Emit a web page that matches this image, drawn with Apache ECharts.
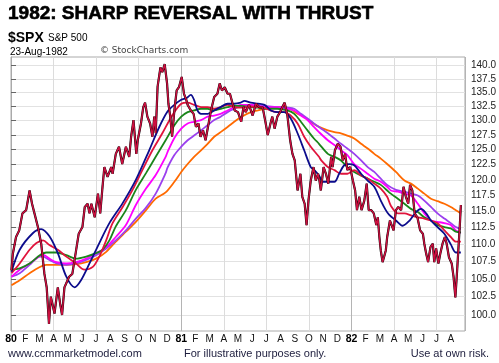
<!DOCTYPE html>
<html>
<head>
<meta charset="utf-8">
<script src="https://cdn.jsdelivr.net/npm/echarts@6.0.0/dist/echarts.min.js"></script>
<style>html,body{margin:0;padding:0;background:#fff}#c{width:499px;height:363px}</style>
</head>
<body>
<div id="c"></div>
<script>
// ---------- data ----------
const yTicks = [100.0,102.5,105.0,107.5,110.0,112.5,115.0,117.5,120.0,122.5,125.0,127.5,130.0,132.5,135.0,137.5,140.0];
const monthLetters = ['J','F','M','A','M','J','J','A','S','O','N','D'];

const price = [
['1980-01-02',106.2],['1980-01-05',108.6],['1980-01-12',111.1],['1980-01-19',112.1],['1980-01-26',114.7],
['1980-02-03',115.2],['1980-02-10',118.3],['1980-02-15',116.2],['1980-02-20',114.7],['1980-02-27',112.6],
['1980-03-05',110.1],['1980-03-12',105.7],['1980-03-17',103.8],['1980-03-22',98.8],['1980-03-26',102.5],
['1980-04-03',100.2],['1980-04-10',103.8],['1980-04-15',101.5],['1980-04-19',100.0],['1980-04-24',103.8],
['1980-05-04',105.3],['1980-05-11',105.7],['1980-05-18',108.6],['1980-05-25',111.6],
['1980-06-02',112.6],['1980-06-07',115.7],['1980-06-13',116.2],['1980-06-17',114.7],['1980-06-21',116.2],['1980-06-28',114.1],
['1980-07-05',117.8],['1980-07-10',114.7],['1980-07-15',118.9],['1980-07-19',122.1],['1980-07-26',120.5],
['1980-08-03',122.1],['1980-08-06',121.0],['1980-08-13',124.3],['1980-08-20',125.5],['1980-08-27',122.6],
['1980-09-04',125.5],['1980-09-11',123.8],['1980-09-15',127.2],['1980-09-20',130.1],['1980-09-26',124.3],['1980-09-29',126.6],
['1980-10-06',129.5],['1980-10-11',132.4],['1980-10-15',133.2],['1980-10-20',130.7],['1980-10-26',129.5],['1980-10-31',127.2],
['1980-11-04',130.7],['1980-11-07',127.8],['1980-11-11',136.1],['1980-11-17',139.7],['1980-11-21',138.8],['1980-11-26',140.3],
['1980-12-01',136.7],['1980-12-04',133.0],['1980-12-08',130.7],['1980-12-12',127.2],['1980-12-17',131.8],['1980-12-22',135.4],['1980-12-27',136.0],
['1981-01-02',137.9],['1981-01-07',134.8],['1981-01-12',133.7],['1981-01-15',132.8],['1981-01-22',131.8],['1981-01-28',131.2],
['1981-02-02',128.9],['1981-02-07',129.5],['1981-02-11',127.2],['1981-02-16',128.3],['1981-02-21',126.6],['1981-02-27',129.5],
['1981-03-04',131.8],['1981-03-11',134.2],['1981-03-18',134.8],['1981-03-23',136.7],['1981-03-28',135.4],
['1981-04-03',136.0],['1981-04-09',134.8],['1981-04-14',134.8],['1981-04-19',133.2],['1981-04-24',131.8],
['1981-05-01',131.5],['1981-05-08',129.8],['1981-05-13',132.4],['1981-05-18',131.5],['1981-05-25',132.8],
['1981-06-02',130.9],['1981-06-09',133.0],['1981-06-16',132.4],['1981-06-23',132.4],['1981-06-29',129.8],
['1981-07-04',127.5],['1981-07-10',129.5],['1981-07-14',130.7],['1981-07-19',128.6],['1981-07-25',130.7],['1981-07-31',131.5],
['1981-08-05',132.4],['1981-08-10',133.2],['1981-08-16',130.9],['1981-08-22',126.6],['1981-08-27',124.3],
['1981-09-01',123.2],['1981-09-07',118.3],['1981-09-13',121.0],['1981-09-17',117.3],['1981-09-22',116.2],['1981-09-26',112.9],['1981-09-30',116.7],
['1981-10-05',119.9],['1981-10-11',122.1],['1981-10-16',119.9],['1981-10-21',121.0],['1981-10-24',119.9],['1981-10-27',118.3],
['1981-11-02',122.1],['1981-11-07',121.0],['1981-11-12',119.4],['1981-11-18',123.8],['1981-11-21',122.1],['1981-11-26',124.9],
['1981-12-02',126.0],['1981-12-08',125.5],['1981-12-13',123.2],['1981-12-18',124.3],['1981-12-23',121.6],['1981-12-29',122.1],
['1982-01-04',119.9],['1982-01-09',118.3],['1982-01-13',115.2],['1982-01-18',117.3],['1982-01-23',115.2],['1982-01-29',116.7],
['1982-02-03',119.4],['1982-02-07',115.2],['1982-02-12',115.2],['1982-02-17',114.7],['1982-02-22',112.9],['1982-02-25',114.1],['1982-02-28',111.1],
['1982-03-03',109.1],['1982-03-07',107.4],['1982-03-10',108.1],['1982-03-14',109.1],['1982-03-17',111.1],['1982-03-23',113.6],['1982-03-31',112.1],
['1982-04-05',115.2],['1982-04-10',115.7],['1982-04-16',115.2],['1982-04-21',118.9],['1982-04-26',117.3],
['1982-05-01',116.2],['1982-05-05',119.2],['1982-05-10',118.3],['1982-05-15',114.7],['1982-05-21',114.1],['1982-05-27',112.1],
['1982-06-02',111.6],['1982-06-05',110.1],['1982-06-09',108.6],['1982-06-13',107.4],['1982-06-18',109.6],['1982-06-23',110.1],['1982-06-26',107.4],['1982-06-30',109.4],
['1982-07-05',107.2],['1982-07-09',108.6],['1982-07-14',110.1],['1982-07-19',111.1],['1982-07-23',110.1],['1982-07-28',108.1],
['1982-08-03',107.2],['1982-08-07',105.3],['1982-08-11',102.4],['1982-08-14',105.3],['1982-08-17',108.6],['1982-08-21',113.2],['1982-08-23',116.0]
];

const maNavy = [
['1980-01-02',106.0],['1980-01-20',109.2],['1980-02-17',111.7],['1980-03-05',112.3],['1980-03-23',111.2],['1980-04-10',108.7],
['1980-04-28',105.3],['1980-05-16',103.8],['1980-05-30',104.8],['1980-06-17',107.2],['1980-07-08',110.2],['1980-07-30',113.2],
['1980-08-28',116.3],['1980-09-25',120.0],['1980-10-24',124.9],['1980-11-14',128.8],['1980-12-02',131.6],['1980-12-17',132.8],
['1981-01-01',133.7],['1981-01-12',134.0],['1981-01-22',134.6],['1981-01-29',133.7],
['1981-02-05',131.8],['1981-02-12',131.2],['1981-02-25',131.2],['1981-03-11',131.8],['1981-03-25',132.4],['1981-04-09',133.0],
['1981-04-23',133.0],['1981-05-07',133.2],['1981-05-15',133.5],['1981-05-29',133.2],['1981-06-13',133.0],['1981-06-27',132.8],
['1981-07-11',131.8],['1981-07-25',131.5],['1981-08-09',131.5],['1981-08-23',130.4],['1981-09-07',127.8],['1981-09-21',124.9],
['1981-10-05',122.1],['1981-10-13',121.6],['1981-10-24',120.6],['1981-10-31',119.7],['1981-11-11',119.7],['1981-11-25',119.7],
['1981-12-05',121.0],['1981-12-16',122.4],['1981-12-27',122.6],['1982-01-07',122.4],['1982-01-22',121.0],['1982-02-05',119.9],
['1982-02-18',118.9],['1982-03-03',116.7],['1982-03-14',115.2],['1982-03-21',114.5],['1982-04-05',113.6],['1982-04-19',112.8],
['1982-05-04',113.6],['1982-05-18',114.9],['1982-05-29',115.4],['1982-06-09',114.7],['1982-06-19',113.6],['1982-07-03',112.6],
['1982-07-18',111.6],['1982-08-01',110.0],['1982-08-12',108.8],['1982-08-23',108.8]
];

const maRed = [
['1980-01-02',105.8],['1980-01-20',107.2],['1980-02-10',109.2],['1980-02-24',110.2],['1980-03-09',110.6],['1980-03-23',109.9],
['1980-04-10',109.2],['1980-04-28',108.2],['1980-05-19',107.2],['1980-06-06',106.3],['1980-06-24',106.7],['1980-07-08',108.2],
['1980-07-23',110.6],['1980-08-06',113.2],['1980-08-28',115.7],['1980-09-18',118.4],['1980-10-09',121.6],['1980-10-31',124.9],
['1980-11-21',127.8],['1980-12-05',129.9],['1980-12-17',131.5],['1981-01-01',133.0],['1981-01-15',133.2],['1981-01-29',132.8],
['1981-02-12',132.4],['1981-02-25',132.4],['1981-03-11',132.1],['1981-03-25',132.4],['1981-04-09',132.8],['1981-04-23',132.4],
['1981-05-07',132.3],['1981-05-29',132.5],['1981-06-13',132.4],['1981-06-27',132.2],['1981-07-25',131.5],['1981-08-09',131.5],
['1981-08-23',130.9],['1981-09-07',129.5],['1981-09-21',127.2],['1981-10-05',125.5],['1981-10-23',123.8],['1981-10-28',123.2],
['1981-11-11',122.1],['1981-11-25',121.6],['1981-12-09',121.0],['1981-12-23',121.0],['1982-01-07',121.6],['1982-01-22',120.7],
['1982-02-05',120.2],['1982-02-18',119.4],['1982-03-03',118.6],['1982-03-17',117.3],['1982-03-25',115.9],['1982-04-09',114.7],
['1982-04-23',114.7],['1982-05-07',114.4],['1982-05-22',114.1],['1982-06-05',113.9],['1982-06-19',113.6],['1982-07-03',113.2],
['1982-07-18',112.1],['1982-08-01',111.1],['1982-08-12',110.4],['1982-08-23',110.4]
];

const maGreen = [
['1980-01-02',106.3],['1980-01-20',106.5],['1980-02-10',107.2],['1980-03-02',108.4],['1980-03-16',108.8],['1980-04-07',108.8],
['1980-04-28',108.4],['1980-05-19',107.9],['1980-06-10',108.2],['1980-07-01',108.7],['1980-07-15',109.2],['1980-07-30',110.6],
['1980-08-13',112.7],['1980-09-04',115.2],['1980-09-25',118.4],['1980-10-17',121.1],['1980-11-07',123.8],['1980-11-28',126.6],
['1980-12-17',129.2],['1981-01-01',130.7],['1981-01-15',131.5],['1981-01-29',131.8],['1981-02-12',132.1],['1981-02-25',132.1],
['1981-03-11',131.8],['1981-03-25',132.1],['1981-04-09',132.4],['1981-04-23',132.6],['1981-05-07',132.6],['1981-05-29',132.4],
['1981-06-13',132.3],['1981-06-27',132.1],['1981-07-25',132.1],['1981-08-16',131.8],['1981-08-31',131.2],['1981-09-14',129.8],
['1981-09-28',128.3],['1981-10-12',126.9],['1981-10-23',126.0],['1981-11-11',124.3],['1981-11-25',123.8],['1981-12-09',123.2],
['1981-12-23',122.1],['1982-01-07',121.3],['1982-01-22',120.7],['1982-02-05',120.2],['1982-02-18',119.7],['1982-03-03',119.2],
['1982-03-17',118.3],['1982-03-25',117.8],['1982-04-09',117.0],['1982-04-23',116.2],['1982-05-07',115.4],['1982-05-22',114.9],
['1982-06-05',114.1],['1982-06-19',113.6],['1982-07-03',112.9],['1982-07-18',112.6],['1982-08-01',112.4],['1982-08-12',111.9],
['1982-08-23',111.8]
];

const maMagenta = [
['1980-01-02',105.3],['1980-01-20',106.3],['1980-02-10',107.2],['1980-03-02',108.3],['1980-03-09',108.5],['1980-03-23',107.9],
['1980-04-07',107.4],['1980-04-28',107.2],['1980-05-19',107.4],['1980-06-10',107.9],['1980-07-01',108.7],['1980-07-23',109.6],
['1980-08-13',111.1],['1980-09-04',112.9],['1980-09-25',116.0],['1980-10-17',118.6],['1980-11-07',120.8],['1980-11-28',123.8],
['1980-12-02',124.6],['1980-12-17',127.0],['1981-01-01',128.6],['1981-01-15',129.5],['1981-01-29',129.8],['1981-02-12',130.1],
['1981-02-25',130.7],['1981-03-11',130.9],['1981-03-25',131.2],['1981-04-09',131.8],['1981-04-23',132.4],['1981-05-07',132.8],
['1981-05-29',132.8],['1981-06-27',132.4],['1981-07-25',132.4],['1981-08-16',132.1],['1981-08-31',131.8],['1981-09-14',130.9],
['1981-09-28',130.1],['1981-10-12',128.9],['1981-10-23',128.0],['1981-11-11',126.6],['1981-11-25',125.8],['1981-12-09',124.9],
['1981-12-23',124.1],['1982-01-07',122.6],['1982-01-22',121.8],['1982-02-05',121.0],['1982-02-18',120.2],['1982-03-03',119.7],
['1982-03-17',118.9],['1982-03-25',118.3],['1982-04-09',118.1],['1982-04-23',117.8],['1982-05-07',117.5],['1982-05-22',116.2],
['1982-06-05',114.7],['1982-06-19',113.6],['1982-07-03',113.4],['1982-07-18',113.2],['1982-08-01',112.9],['1982-08-12',112.1],
['1982-08-23',111.7]
];

const maPurple = [
['1980-01-02',105.3],['1980-01-20',105.8],['1980-02-10',107.0],['1980-03-02',108.2],['1980-03-09',108.2],['1980-03-23',107.7],
['1980-04-07',107.2],['1980-04-28',107.0],['1980-05-19',107.2],['1980-06-10',107.7],['1980-07-01',108.4],['1980-07-23',109.4],
['1980-08-13',110.6],['1980-09-04',112.1],['1980-09-25',113.9],['1980-10-17',115.6],['1980-11-07',117.8],['1980-11-28',121.1],
['1980-12-02',122.0],['1980-12-17',124.1],['1981-01-01',125.5],['1981-01-15',126.6],['1981-01-29',127.4],['1981-02-12',128.3],
['1981-02-25',129.2],['1981-03-11',130.1],['1981-03-25',130.7],['1981-04-09',131.5],['1981-04-23',132.1],['1981-05-07',132.6],
['1981-05-29',132.8],['1981-06-27',132.6],['1981-07-25',132.4],['1981-08-16',132.3],['1981-08-31',132.1],['1981-09-14',131.2],
['1981-09-28',130.4],['1981-10-12',129.5],['1981-10-28',128.6],['1981-11-11',127.8],['1981-11-25',126.9],['1981-12-09',126.0],
['1981-12-23',125.2],['1982-01-07',124.3],['1982-01-22',123.2],['1982-02-05',122.1],['1982-02-18',121.3],['1982-03-03',120.2],
['1982-03-17',119.2],['1982-04-05',118.4],['1982-04-23',118.1],['1982-05-07',117.8],['1982-05-22',117.5],['1982-06-05',116.7],
['1982-06-19',115.7],['1982-07-03',114.7],['1982-07-18',113.9],['1982-08-01',113.2],['1982-08-12',112.6],['1982-08-23',112.3]
];

const maOrange = [
['1980-01-02',104.1],['1980-01-20',104.8],['1980-02-10',105.8],['1980-03-02',106.7],['1980-03-16',107.0],['1980-04-07',107.0],
['1980-04-28',107.0],['1980-05-19',107.1],['1980-06-10',107.4],['1980-07-01',107.9],['1980-07-23',108.9],['1980-08-13',110.4],
['1980-09-04',111.9],['1980-09-25',113.4],['1980-10-17',115.2],['1980-11-07',117.0],['1980-11-28',118.0],['1980-12-17',119.7],
['1981-01-01',121.3],['1981-01-15',122.6],['1981-01-29',123.8],['1981-02-12',124.9],['1981-02-25',126.0],['1981-03-11',127.2],
['1981-03-25',128.0],['1981-04-09',128.9],['1981-04-23',129.8],['1981-05-07',130.6],['1981-05-29',131.5],['1981-06-13',131.8],
['1981-06-27',132.1],['1981-07-11',132.4],['1981-07-25',132.4],['1981-08-09',132.4],['1981-08-23',132.1],['1981-09-07',131.2],
['1981-09-21',130.7],['1981-10-05',129.8],['1981-10-23',128.9],['1981-11-11',128.3],['1981-11-25',128.0],['1981-12-09',127.8],
['1981-12-23',127.4],['1982-01-07',126.9],['1982-01-22',126.0],['1982-02-05',125.2],['1982-02-18',124.3],['1982-03-03',123.5],
['1982-03-17',122.6],['1982-04-05',121.3],['1982-04-23',119.9],['1982-05-07',119.4],['1982-05-22',118.6],['1982-06-05',117.8],
['1982-06-19',117.0],['1982-07-03',116.6],['1982-07-18',116.2],['1982-08-01',115.7],['1982-08-12',115.2],['1982-08-23',114.7]
];

// ---------- helpers ----------
const L = v => Math.log10(v);              // price axis is logarithmic
function toM(s) {                           // date -> months since Jan 1980
  const [y, m, d] = s.split('-').map(Number);
  const dim = new Date(y, m, 0).getDate();
  return (y - 1980) * 12 + (m - 1) + (d - 1) / dim;
}
const pts = arr => arr.map(([d, v]) => [toM(d), L(v)]);

const FONT = '"Liberation Sans", Arial, sans-serif';
const yMin = L(97.86), yMax = L(141.66);

function ma(name, arr, color) {
  return { name, type: 'line', data: pts(arr), showSymbol: false, smooth: 0.3,
    lineStyle: { color, width: 1.8 }, silent: true, z: 2 };
}

const chart = echarts.init(document.getElementById('c'), null, { renderer: 'canvas' });
chart.setOption({
  animation: false,
  backgroundColor: '#fff',
  grid: { left: 11, right: 32, top: 57, bottom: 32, show: true, borderColor: '#aaaaaa', borderWidth: 1, backgroundColor: '#fff' },
  xAxis: [
    { type: 'value', min: 0, max: 32, interval: 1,
      axisLine: { show: false }, axisTick: { show: false }, splitLine: { show: false },
      axisLabel: { margin: 3, fontFamily: FONT, fontSize: 10, color: '#111', showMaxLabel: false,
        formatter: v => { const i = Math.round(v); if (i >= 32) return ''; const m = i % 12;
          if (m === 0) return '{y|' + (80 + i / 12) + '}'; return monthLetters[m]; },
        rich: { y: { fontFamily: FONT, fontSize: 10.5, fontWeight: 'bold', color: '#000' } } } },
    { type: 'value', min: 0, max: 32, interval: 3, axisLine: { show: false }, axisTick: { show: false },
      axisLabel: { show: false }, splitLine: { show: true, lineStyle: { color: '#dcdcdc', width: 1 } } },
    { type: 'value', min: 0, max: 32, interval: 12, axisLine: { show: false }, axisTick: { show: false },
      axisLabel: { show: false }, splitLine: { show: true, lineStyle: { color: '#b4b4b4', width: 1 } } }
  ],
  yAxis: {
    type: 'value', position: 'right', min: yMin, max: yMax, scale: true,
    axisLine: { show: true, lineStyle: { color: '#aaaaaa' } },
    axisTick: { show: true, length: 5, customValues: yTicks.map(L), lineStyle: { color: '#666' } },
    axisLabel: { customValues: yTicks.map(L), margin: 6, fontFamily: FONT, fontSize: 10, color: '#222',
      formatter: v => Math.pow(10, v).toFixed(1) },
    splitLine: { show: true, lineStyle: { color: '#e2e2e2', width: 1 } }
  },
  series: [
    ma('MA orange', maOrange, '#ff6a00'),
    ma('MA purple', maPurple, '#9b40ee'),
    ma('MA magenta', maMagenta, '#ff00ff'),
    ma('MA green', maGreen, '#1a861a'),
    ma('MA red', maRed, '#e0143c'),
    ma('MA navy', maNavy, '#0c0c8c'),
    { name: 'SPX', type: 'line', data: pts(price), showSymbol: false, lineStyle: { color: '#000', width: 2.2 }, z: 3, silent: true },
    { name: 'SPX short', type: 'line', data: pts(price), showSymbol: false, lineStyle: { color: '#cc1040', width: 1.5 }, z: 4, silent: true }
  ],
  graphic: [
    { type: 'text', x: 8, y: 13.5, style: { text: '1982: SHARP REVERSAL WITH THRUST', font: 'bold 19px ' + FONT, fill: '#000', stroke: '#000', lineWidth: 0.6, verticalAlign: 'middle', align: 'left' } },
    { type: 'text', x: 8, y: 38, style: { text: '$SPX', font: 'bold 14px ' + FONT, fill: '#000', verticalAlign: 'middle' } },
    { type: 'text', x: 48, y: 38.5, style: { text: 'S&P 500', font: '10px ' + FONT, fill: '#000', verticalAlign: 'middle' } },
    { type: 'text', x: 10, y: 52, style: { text: '23-Aug-1982', font: '10px ' + FONT, fill: '#000', verticalAlign: 'middle' } },
    { type: 'text', x: 100, y: 50.5, style: { text: '© StockCharts.com', font: '9px "DejaVu Sans", sans-serif', fill: '#444', verticalAlign: 'middle' } },
    { type: 'text', x: 8, y: 354, style: { text: 'www.ccmmarketmodel.com', font: '11px ' + FONT, fill: '#1c1c3c', verticalAlign: 'middle' } },
    { type: 'text', x: 184, y: 354, style: { text: 'For illustrative purposes only.', font: '11px ' + FONT, fill: '#1c1c3c', verticalAlign: 'middle' } },
    { type: 'text', x: 489, y: 354, style: { text: 'Use at own risk.', font: '11px ' + FONT, fill: '#1c1c3c', verticalAlign: 'middle', align: 'right' } }
  ]
});
</script>
</body>
</html>
